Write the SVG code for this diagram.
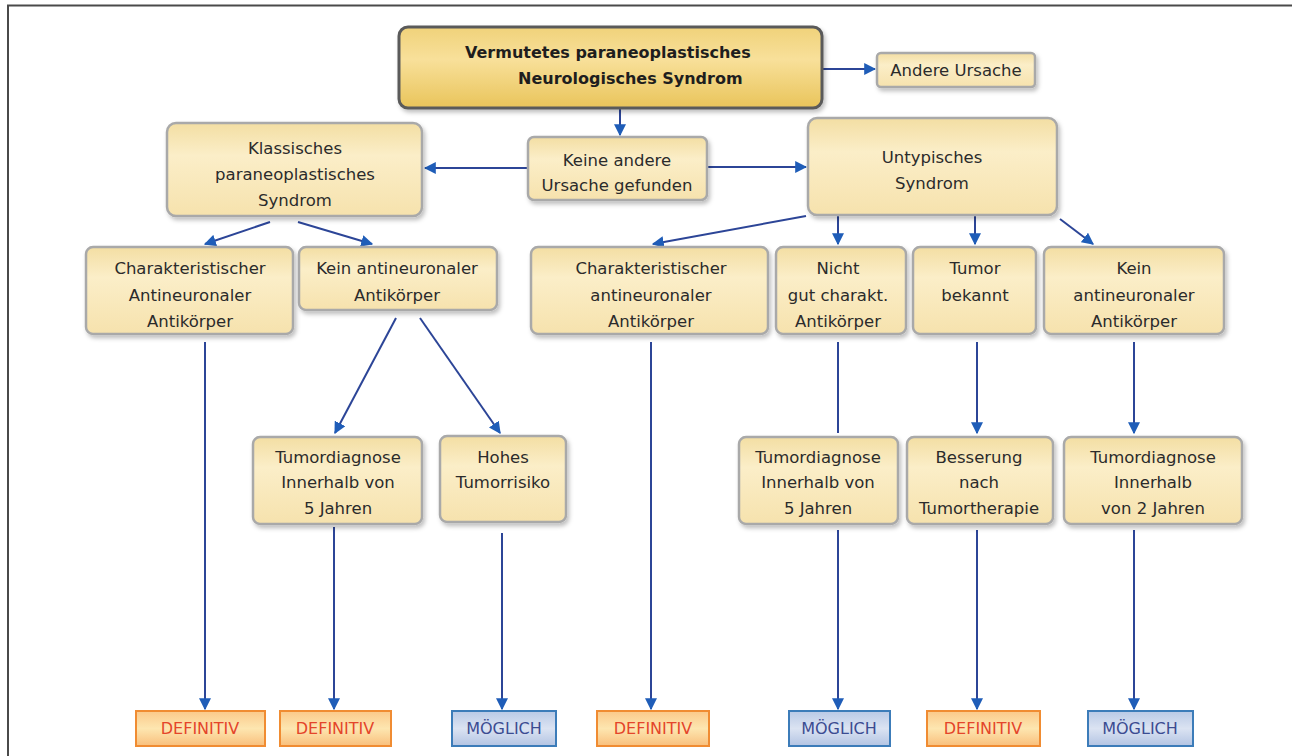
<svg xmlns="http://www.w3.org/2000/svg" width="1292" height="756" viewBox="0 0 1292 756">
<defs>
<linearGradient id="gBox" x1="0" y1="0" x2="0" y2="1">
<stop offset="0" stop-color="#f3dea3"/><stop offset="0.35" stop-color="#fbeec8"/><stop offset="1" stop-color="#f6e2ad"/>
</linearGradient>
<linearGradient id="gMain" x1="0" y1="0" x2="0" y2="1">
<stop offset="0" stop-color="#f0d27a"/><stop offset="0.4" stop-color="#f8e09a"/><stop offset="1" stop-color="#e9c45a"/>
</linearGradient>
<linearGradient id="gDef" x1="0" y1="0" x2="0" y2="1">
<stop offset="0" stop-color="#fbc98a"/><stop offset="0.5" stop-color="#fde6b0"/><stop offset="1" stop-color="#f9bf7c"/>
</linearGradient>
<linearGradient id="gMog" x1="0" y1="0" x2="0" y2="1">
<stop offset="0" stop-color="#b9c9e6"/><stop offset="0.5" stop-color="#dbe3f2"/><stop offset="1" stop-color="#b3c4e3"/>
</linearGradient>
<filter id="sh" x="-10%" y="-10%" width="130%" height="140%">
<feDropShadow dx="2" dy="3" stdDeviation="2" flood-color="#000" flood-opacity="0.25"/>
</filter>
<marker id="ah" viewBox="0 0 10 10" refX="9" refY="5" markerWidth="6" markerHeight="6" orient="auto" markerUnits="strokeWidth">
<path d="M0,0 L10,5 L0,10 z" fill="#1f5db8"/>
</marker>
</defs>
<style>
.box{fill:url(#gBox);stroke:#a9a9a9;stroke-width:2.5;filter:url(#sh)}
.main{fill:url(#gMain);stroke:#5a5a5a;stroke-width:3;filter:url(#sh)}
.def{fill:url(#gDef);stroke:#f08c32;stroke-width:2}
.mog{fill:url(#gMog);stroke:#3c7cb9;stroke-width:2}
text{font-family:"DejaVu Sans",Verdana,sans-serif;font-size:16.5px;fill:#2b2b2b;text-anchor:middle}
.b{font-weight:bold;font-size:16px;fill:#1e1e1e;text-anchor:start}
.dt{fill:#e4452a;font-size:16px}
.mt{fill:#3b4c92;font-size:16px}
.c{fill:none;stroke:#2c4597;stroke-width:2}
</style>
<path d="M8,756 V5.5 H1292" fill="none" stroke="#4a4a4a" stroke-width="2"/>
<g id="connectors">
<line class="c" x1="822" y1="69" x2="875" y2="69" marker-end="url(#ah)"/>
<line class="c" x1="620" y1="109" x2="620" y2="135" marker-end="url(#ah)"/>
<line class="c" x1="528" y1="168" x2="425" y2="168" marker-end="url(#ah)"/>
<line class="c" x1="707" y1="167" x2="806" y2="167" marker-end="url(#ah)"/>
<line class="c" x1="270" y1="222" x2="205" y2="244" marker-end="url(#ah)"/>
<line class="c" x1="298" y1="222" x2="372" y2="244" marker-end="url(#ah)"/>
<line class="c" x1="806" y1="216" x2="653" y2="244" marker-end="url(#ah)"/>
<line class="c" x1="838" y1="216" x2="838" y2="244" marker-end="url(#ah)"/>
<line class="c" x1="975" y1="216" x2="975" y2="244" marker-end="url(#ah)"/>
<line class="c" x1="1060" y1="219" x2="1093" y2="244" marker-end="url(#ah)"/>
<line class="c" x1="396" y1="318" x2="335" y2="433" marker-end="url(#ah)"/>
<line class="c" x1="420" y1="318" x2="500" y2="433" marker-end="url(#ah)"/>
<line class="c" x1="205" y1="342" x2="205" y2="709" marker-end="url(#ah)"/>
<line class="c" x1="334" y1="527" x2="334" y2="709" marker-end="url(#ah)"/>
<line class="c" x1="502" y1="533" x2="502" y2="709" marker-end="url(#ah)"/>
<line class="c" x1="651" y1="342" x2="651" y2="709" marker-end="url(#ah)"/>
<line class="c" x1="838" y1="342" x2="838" y2="433"/>
<line class="c" x1="838" y1="530" x2="838" y2="709" marker-end="url(#ah)"/>
<line class="c" x1="977" y1="342" x2="977" y2="433" marker-end="url(#ah)"/>
<line class="c" x1="977" y1="530" x2="977" y2="709" marker-end="url(#ah)"/>
<line class="c" x1="1134" y1="342" x2="1134" y2="433" marker-end="url(#ah)"/>
<line class="c" x1="1134" y1="530" x2="1134" y2="709" marker-end="url(#ah)"/>
</g>
<g id="n-main"><rect class="main" x="399" y="27" width="423" height="81" rx="9"/>
<text class="b" x="465" y="58">Vermutetes paraneoplastisches</text>
<text class="b" x="518" y="84">Neurologisches Syndrom</text></g>
<g id="n-andere"><rect class="box" x="877" y="53" width="158" height="34" rx="4"/>
<text x="956" y="76">Andere Ursache</text></g>
<g id="n-klass"><rect class="box" x="167" y="123" width="255" height="93" rx="9"/>
<text x="295" y="154">Klassisches</text><text x="295" y="180">paraneoplastisches</text><text x="295" y="206">Syndrom</text></g>
<g id="n-keine"><rect class="box" x="528" y="137" width="179" height="63" rx="6"/>
<text x="617" y="166">Keine andere</text><text x="617" y="191">Ursache gefunden</text></g>
<g id="n-untyp"><rect class="box" x="808" y="118" width="249" height="97" rx="9"/>
<text x="932" y="163">Untypisches</text><text x="932" y="189">Syndrom</text></g>
<g id="n-char1"><rect class="box" x="86" y="247" width="207" height="87" rx="7"/>
<text x="190" y="274">Charakteristischer</text><text x="190" y="301">Antineuronaler</text><text x="190" y="327">Antikörper</text></g>
<g id="n-kein1"><rect class="box" x="299" y="247" width="198" height="63" rx="7"/>
<text x="397" y="274">Kein antineuronaler</text><text x="397" y="301">Antikörper</text></g>
<g id="n-char2"><rect class="box" x="531" y="247" width="237" height="87" rx="7"/>
<text x="651" y="274">Charakteristischer</text><text x="651" y="301">antineuronaler</text><text x="651" y="327">Antikörper</text></g>
<g id="n-nicht"><rect class="box" x="776" y="247" width="130" height="87" rx="7"/>
<text x="838" y="274">Nicht</text><text x="838" y="301">gut charakt.</text><text x="838" y="327">Antikörper</text></g>
<g id="n-tumor"><rect class="box" x="913" y="247" width="123" height="87" rx="7"/>
<text x="975" y="274">Tumor</text><text x="975" y="301">bekannt</text></g>
<g id="n-kein2"><rect class="box" x="1044" y="247" width="180" height="87" rx="7"/>
<text x="1134" y="274">Kein</text><text x="1134" y="301">antineuronaler</text><text x="1134" y="327">Antikörper</text></g>
<g id="n-td1"><rect class="box" x="253" y="437" width="169" height="87" rx="7"/>
<text x="338" y="463">Tumordiagnose</text><text x="338" y="488">Innerhalb von</text><text x="338" y="514">5 Jahren</text></g>
<g id="n-hohes"><rect class="box" x="440" y="436" width="126" height="86" rx="7"/>
<text x="503" y="463">Hohes</text><text x="503" y="488">Tumorrisiko</text></g>
<g id="n-td2"><rect class="box" x="739" y="437" width="159" height="87" rx="7"/>
<text x="818" y="463">Tumordiagnose</text><text x="818" y="488">Innerhalb von</text><text x="818" y="514">5 Jahren</text></g>
<g id="n-bess"><rect class="box" x="907" y="437" width="146" height="87" rx="7"/>
<text x="979" y="463">Besserung</text><text x="979" y="488">nach</text><text x="979" y="514">Tumortherapie</text></g>
<g id="n-td3"><rect class="box" x="1064" y="437" width="178" height="87" rx="7"/>
<text x="1153" y="463">Tumordiagnose</text><text x="1153" y="488">Innerhalb</text><text x="1153" y="514">von 2 Jahren</text></g>
<g id="r-def1"><rect class="def" x="136" y="711" width="129" height="35"/><text class="dt" x="200" y="734">DEFINITIV</text></g>
<g id="r-def2"><rect class="def" x="280" y="711" width="111" height="35"/><text class="dt" x="335" y="734">DEFINITIV</text></g>
<g id="r-mog1"><rect class="mog" x="452" y="711" width="104" height="35"/><text class="mt" x="504" y="734">MÖGLICH</text></g>
<g id="r-def3"><rect class="def" x="597" y="711" width="112" height="35"/><text class="dt" x="653" y="734">DEFINITIV</text></g>
<g id="r-mog2"><rect class="mog" x="789" y="711" width="101" height="35"/><text class="mt" x="839" y="734">MÖGLICH</text></g>
<g id="r-def4"><rect class="def" x="927" y="711" width="113" height="35"/><text class="dt" x="983" y="734">DEFINITIV</text></g>
<g id="r-mog3"><rect class="mog" x="1088" y="711" width="105" height="35"/><text class="mt" x="1140" y="734">MÖGLICH</text></g>
</svg>
